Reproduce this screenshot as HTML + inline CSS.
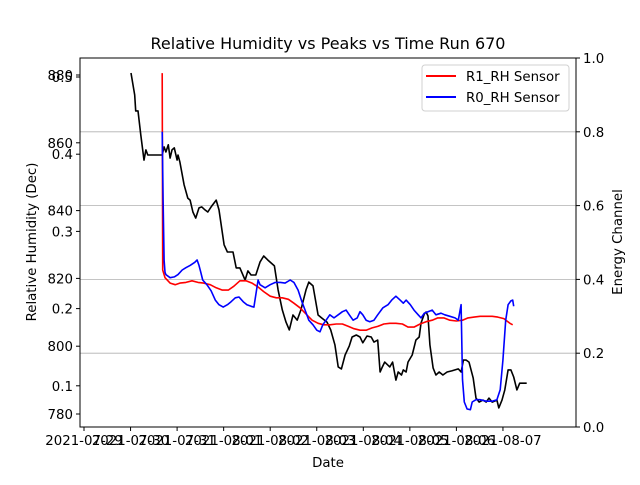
<!DOCTYPE html>
<html><head><meta charset="utf-8"><style>
body{margin:0;background:#fff;}
svg{font-family:"DejaVu Sans","Liberation Sans",sans-serif;}
</style></head><body>
<svg id="c" width="640" height="480" xmlns="http://www.w3.org/2000/svg"></svg>
<script>
const xTicks=["2021-07-29","2021-07-30","2021-07-31","2021-08-01","2021-08-02","2021-08-03","2021-08-04","2021-08-05","2021-08-06","2021-08-07"];
const peakTicks=[780,800,820,840,860,880];
const rhTicks=[0.1,0.2,0.3,0.4,0.5];
const energyTicks=[0.0,0.2,0.4,0.6,0.8,1.0];
const blackDays=[1.01,1.09,1.11,1.16,1.22,1.29,1.33,1.37,1.68,1.72,1.76,1.81,1.85,1.89,1.94,2.00,2.02,2.06,2.15,2.23,2.28,2.34,2.40,2.47,2.53,2.60,2.66,2.73,2.84,2.90,3.01,3.08,3.20,3.27,3.35,3.46,3.52,3.59,3.69,3.78,3.86,3.95,4.09,4.17,4.26,4.34,4.41,4.49,4.58,4.66,4.77,4.83,4.92,5.03,5.11,5.22,5.30,5.39,5.46,5.53,5.61,5.70,5.76,5.85,5.93,5.99,6.08,6.17,6.23,6.31,6.36,6.40,6.46,6.57,6.63,6.70,6.75,6.82,6.86,6.92,6.96,7.05,7.13,7.20,7.24,7.31,7.35,7.39,7.43,7.50,7.56,7.63,7.71,7.80,7.90,8.04,8.10,8.15,8.21,8.27,8.36,8.42,8.49,8.57,8.64,8.70,8.77,8.87,8.91,8.98,9.04,9.11,9.17,9.23,9.30,9.36,9.51];
const blackVals=[880.6,874.1,869.4,869.4,862.3,854.9,857.9,856.4,856.4,858.8,857.3,859.4,855.5,857.9,858.5,854.9,856.4,854.3,847.6,843.7,843.1,839.6,837.8,840.8,841.1,840.2,839.6,841.1,843.1,840.2,829.9,827.8,827.8,823.1,823.1,819.5,822.2,821.0,821.0,824.8,826.6,825.4,823.7,816.6,810.7,807.1,804.8,809.2,807.7,810.7,816.6,818.9,817.8,809.2,808.3,807.1,804.8,800.4,793.9,793.3,797.4,800.1,802.7,803.3,802.7,801.0,803.0,802.7,801.2,801.8,792.4,793.6,795.3,793.9,795.3,790.0,792.4,791.5,793.0,792.4,795.3,797.4,801.8,802.7,806.8,809.5,810.1,808.9,800.4,793.6,791.5,792.4,791.5,792.4,792.7,793.3,792.4,795.9,795.9,795.3,790.6,784.7,783.5,784.1,783.5,784.7,783.5,784.1,781.8,784.1,787.1,793.0,793.0,790.9,787.1,789.1,789.1];
const blueDays=[1.68,1.70,1.72,1.74,1.76,1.85,1.94,2.02,2.11,2.19,2.28,2.38,2.43,2.47,2.51,2.55,2.64,2.73,2.82,2.90,2.99,3.08,3.16,3.25,3.33,3.42,3.50,3.59,3.65,3.74,3.78,3.89,4.00,4.11,4.22,4.32,4.43,4.51,4.60,4.68,4.75,4.83,4.92,5.00,5.07,5.13,5.20,5.28,5.37,5.46,5.55,5.63,5.70,5.78,5.87,5.93,5.99,6.06,6.14,6.23,6.31,6.42,6.53,6.61,6.70,6.79,6.86,6.92,7.01,7.09,7.18,7.24,7.31,7.39,7.48,7.56,7.67,7.75,7.86,7.97,8.04,8.10,8.13,8.17,8.23,8.30,8.34,8.42,8.51,8.64,8.77,8.87,8.94,9.00,9.06,9.11,9.17,9.21,9.23];
const blueVals=[0.429,0.341,0.263,0.247,0.244,0.240,0.241,0.244,0.250,0.253,0.256,0.260,0.263,0.256,0.247,0.237,0.231,0.223,0.211,0.205,0.202,0.205,0.209,0.214,0.215,0.209,0.205,0.203,0.202,0.237,0.231,0.227,0.231,0.234,0.234,0.233,0.237,0.234,0.224,0.209,0.198,0.185,0.179,0.172,0.170,0.179,0.185,0.192,0.188,0.192,0.196,0.198,0.192,0.185,0.188,0.196,0.192,0.185,0.183,0.185,0.192,0.201,0.205,0.211,0.216,0.211,0.207,0.211,0.205,0.198,0.192,0.188,0.194,0.196,0.198,0.192,0.194,0.192,0.190,0.188,0.185,0.205,0.108,0.079,0.070,0.069,0.079,0.082,0.082,0.080,0.080,0.082,0.095,0.133,0.185,0.205,0.210,0.211,0.203];
const redDays=[1.68,1.69,1.74,1.85,1.96,2.06,2.19,2.32,2.45,2.57,2.71,2.84,2.97,3.10,3.22,3.35,3.48,3.61,3.74,3.86,4.00,4.13,4.26,4.39,4.51,4.64,4.77,4.90,5.03,5.15,5.28,5.42,5.55,5.68,5.80,5.93,6.06,6.19,6.31,6.44,6.57,6.70,6.84,6.96,7.09,7.22,7.35,7.48,7.60,7.73,7.86,8.00,8.13,8.25,8.38,8.51,8.64,8.77,8.89,9.02,9.15,9.21];
const redVals=[0.505,0.250,0.240,0.233,0.231,0.233,0.234,0.236,0.234,0.233,0.231,0.227,0.224,0.224,0.229,0.236,0.236,0.233,0.228,0.222,0.216,0.214,0.214,0.212,0.207,0.201,0.193,0.185,0.181,0.179,0.179,0.180,0.180,0.177,0.174,0.172,0.172,0.175,0.177,0.180,0.181,0.181,0.180,0.176,0.176,0.180,0.183,0.185,0.188,0.188,0.185,0.184,0.185,0.188,0.189,0.190,0.190,0.190,0.189,0.187,0.181,0.179];

const NS="http://www.w3.org/2000/svg";
const svg=document.getElementById('c');
const L=80,R=576,T=58,B=427;
const FS=13.33;
const xs=d=>84+d*46.55;
const yPeak=v=>75+(880-v)*3.39;
const yRH=v=>77+(0.5-v)*772;
const yE=v=>B-(B-T)*v;
function mk(tag,attrs,parent){const e=document.createElementNS(NS,tag);for(const k in attrs)e.setAttribute(k,attrs[k]);(parent||svg).appendChild(e);return e;}
function txt(s,attrs){const e=mk('text',attrs);e.textContent=s;return e;}

energyTicks.forEach(v=>{if(v>0&&v<1){const g=mk('line',{x1:L,x2:R,y1:yE(v),y2:yE(v),stroke:'#b0b0b0','stroke-width':0.8});

}});

function series(days,vals,yf,color,name){
  const p=days.map((d,i)=>(i?'L':'M')+xs(d).toFixed(1)+','+yf(vals[i]).toFixed(1)).join('');
  const e=mk('path',{d:p,fill:'none',stroke:color,'stroke-width':1.6,'stroke-linejoin':'round'});
  
  
}
series(blackDays,blackVals,yPeak,'#000','peaks-line');
series(redDays,redVals,yRH,'#ff0000','r1-rh-line');
series(blueDays,blueVals,yRH,'#0000ff','r0-rh-line');

const frame=mk('rect',{x:L,y:T,width:R-L,height:B-T,fill:'none',stroke:'#000','stroke-width':1});



xTicks.forEach((t,i)=>{const x=xs(i);mk('line',{x1:x,x2:x,y1:B,y2:B+4,stroke:'#000'});
const e=txt(t,{x:x,y:B+18,'font-size':FS,'text-anchor':'middle',fill:'#000'});

});
peakTicks.forEach(v=>{const y=yPeak(v);mk('line',{x1:L-4,x2:L,y1:y,y2:y,stroke:'#000'});
const e=txt(String(v),{x:L-7,y:y+5,'font-size':FS,'text-anchor':'end'});

});
rhTicks.forEach(v=>{const y=yRH(v);mk('line',{x1:L-4,x2:L,y1:y,y2:y,stroke:'#000'});
const e=txt(String(v),{x:L-7,y:y+5,'font-size':FS,'text-anchor':'end'});

});
energyTicks.forEach(v=>{const y=yE(v);mk('line',{x1:R,x2:R+4,y1:y,y2:y,stroke:'#000'});
const e=txt(v.toFixed(1),{x:R+7,y:y+5,'font-size':FS});

});

let e=txt('Relative Humidity vs Peaks vs Time Run 670',{x:328,y:49,'font-size':16,'text-anchor':'middle'});

e=txt('Date',{x:328,y:467,'font-size':FS,'text-anchor':'middle'});

e=txt('Relative Humidity (Dec)',{x:0,y:0,'font-size':FS,'text-anchor':'middle',transform:'translate(36,242) rotate(-90)'});

e=txt('Energy Channel',{x:0,y:0,'font-size':FS,'text-anchor':'middle',transform:'translate(622,242) rotate(-90)'});


const lg=mk('rect',{x:422,y:65,width:147,height:46,rx:3,fill:'#fff','fill-opacity':0.8,stroke:'#d0d0d0'});

[['R1_RH Sensor','#ff0000',76],['R0_RH Sensor','#0000ff',97]].forEach(([n,c,y])=>{
 mk('line',{x1:426,x2:456,y1:y,y2:y,stroke:c,'stroke-width':2});
 const t=txt(n,{x:466,y:y+5,'font-size':FS});
 
 
});
</script>
</body></html>
